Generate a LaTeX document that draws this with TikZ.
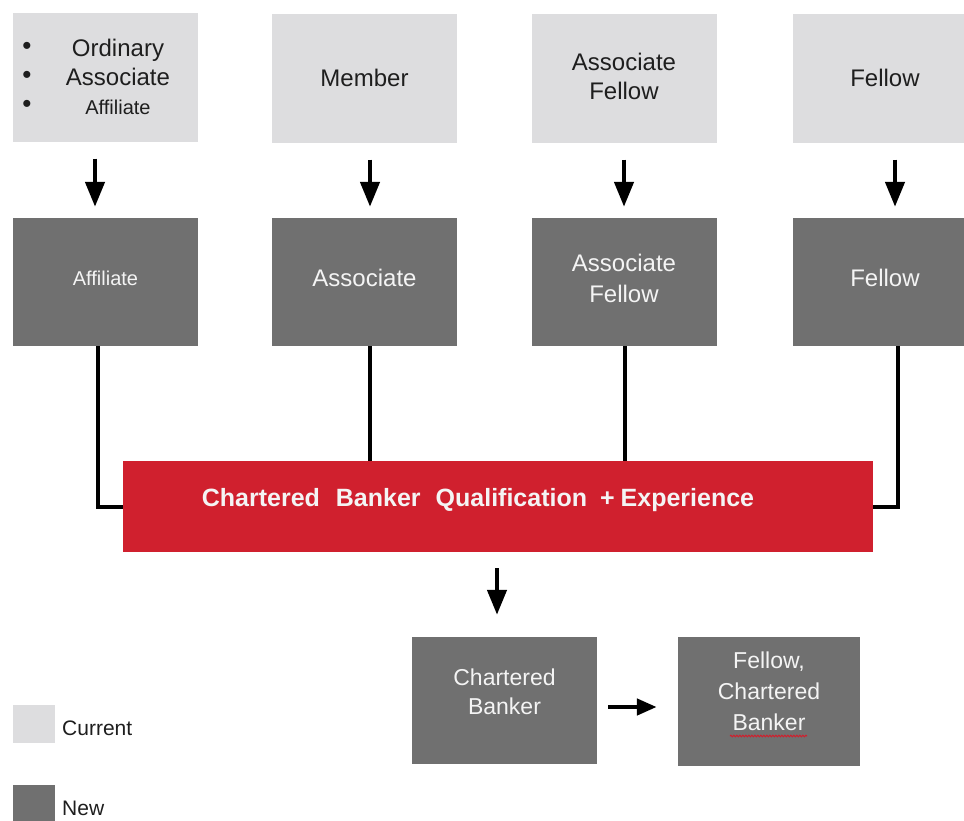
\documentclass[tikz,border=0pt]{standalone}
\usepackage{fontspec}
\setmainfont{Liberation Sans}
\usetikzlibrary{arrows.meta,decorations.pathmorphing}
\definecolor{curgray}{RGB}{221,221,223}
\definecolor{newgray}{RGB}{112,112,112}
\definecolor{cbred}{RGB}{208,32,46}
\definecolor{darktext}{RGB}{30,30,30}
\definecolor{lighttext}{RGB}{244,244,244}
\begin{document}
\begin{tikzpicture}[x=1pt,y=-1pt,
  box/.style={draw=none,inner sep=0pt,minimum width=185pt,minimum height=129pt},
  curbox/.style={box,fill=curgray},
  newbox/.style={box,fill=newgray,minimum height=128pt},
  curtxt/.style={text=darktext,align=center,inner sep=0pt,font=\fontsize{24}{29}\selectfont},
  newtxt/.style={text=lighttext,align=center,inner sep=0pt,font=\fontsize{24}{31}\selectfont},
  redtxt/.style={text=lighttext,inner sep=0pt,font=\bfseries\fontsize{25}{30}\selectfont},
  legtxt/.style={text=darktext,inner sep=0pt,anchor=west,font=\fontsize{21}{25}\selectfont},
  arr/.style={line width=4.5pt,-{Triangle[width=19pt,length=25pt]}},
  conn/.style={line width=4pt},
]
\useasboundingbox (0,0) rectangle (964,820);
\fill[white] (0,0) rectangle (964,820);

% current row
\node[curbox,
  label={[curtxt,xshift=12.5pt]center:{Ordinary\\Associate\\{\fontsize{20}{29}\selectfont Affiliate}}},
  label={[curtxt,xshift=-78.5pt,font=\fontsize{26}{29}\selectfont]center:{•\\•\\•}}]
  (cur1) at (105.5,77) {};
\node[curbox,label={[curtxt]center:Member}] (cur2) at (364.5,78) {};
\node[curbox,label={[curtxt,yshift=1.5pt]center:{Associate\\Fellow}}] (cur3) at (624,78) {};
\node[curbox,label={[curtxt]center:Fellow}] (cur4) at (885,78) {};

% new row
\node[newbox,label={[newtxt,yshift=4pt,font=\fontsize{20}{31}\selectfont]center:Affiliate}] (new1) at (105.5,282) {};
\node[newbox,label={[newtxt,yshift=4pt]center:Associate}] (new2) at (364.5,282) {};
\node[newbox,label={[newtxt,yshift=4pt]center:{Associate\\Fellow}}] (new3) at (624,282) {};
\node[newbox,label={[newtxt,yshift=4pt]center:Fellow}] (new4) at (885,282) {};

% red bar
\node[draw=none,fill=cbred,inner sep=0pt,minimum width=750pt,minimum height=91pt,
  label={[redtxt,xshift=-20pt,yshift=6pt]center:{Chartered\hspace{16pt}Banker\hspace{15pt}Qualification\hspace{13pt}+\hspace{6pt}Experience}}]
  (red) at (498,506.5) {};

% bottom boxes
\node[box,fill=newgray,minimum height=127pt,
  label={[newtxt,yshift=9pt,font=\fontsize{23}{29}\selectfont]center:{Chartered\\Banker}}]
  (cb) at (504.5,700.5) {};
\node[box,fill=newgray,minimum width=182pt,
  label={[newtxt,yshift=10pt,font=\fontsize{23}{31}\selectfont]center:{Fellow,\\Chartered\\Banker}}]
  (fcb) at (769,701.5) {};
\draw[cbred,line width=1pt,decorate,decoration={snake,amplitude=0.8pt,segment length=3pt}]
  ([shift={(-39,34.5)}]fcb.center) -- ([shift={(38,34.5)}]fcb.center);

% legend
\node[fill=curgray,inner sep=0pt,minimum width=42pt,minimum height=38pt] (lcur) at (34,724) {};
\node[legtxt] (tcur) at (62,728) {Current};
\node[fill=newgray,inner sep=0pt,minimum width=42pt,minimum height=38pt] (lnew) at (34,804) {};
\node[legtxt] (tnew) at (62,808) {New};

% arrows current -> new
\coordinate (a1) at ([xshift=-10.5pt]cur1.south);
\coordinate (a2) at ([xshift=5.5pt]cur2.south);
\coordinate (a3) at (cur3.south);
\coordinate (a4) at ([xshift=10pt]cur4.south);
\foreach \i in {1,2,3,4}{
  \draw[arr,shorten <=17pt,shorten >=11pt] (a\i) -- (a\i |- new\i.north);
}

% connectors new -> red bar
\coordinate (c1) at ([xshift=-7.5pt]new1.south);
\coordinate (c2) at ([xshift=5.5pt]new2.south);
\coordinate (c3) at ([xshift=1pt]new3.south);
\coordinate (c4) at ([xshift=13pt]new4.south);
\draw[conn] (c1) |- (red.west);
\draw[conn] (c2) -- (c2 |- red.north);
\draw[conn] (c3) -- (c3 |- red.north);
\draw[conn] (c4) |- (red.east);

% red bar -> chartered banker
\coordinate (d1) at ([xshift=-1pt]red.south);
\draw[arr,shorten <=16pt,shorten >=22pt] (d1) -- (d1 |- cb.north);

% chartered banker -> fellow
\coordinate (r1) at ([yshift=-6.5pt]cb.east);
\draw[line width=4.5pt,-{Triangle[width=16pt,length=20pt]},shorten <=11pt,shorten >=21pt] (r1) -- (r1 -| fcb.west);
\end{tikzpicture}
\end{document}
